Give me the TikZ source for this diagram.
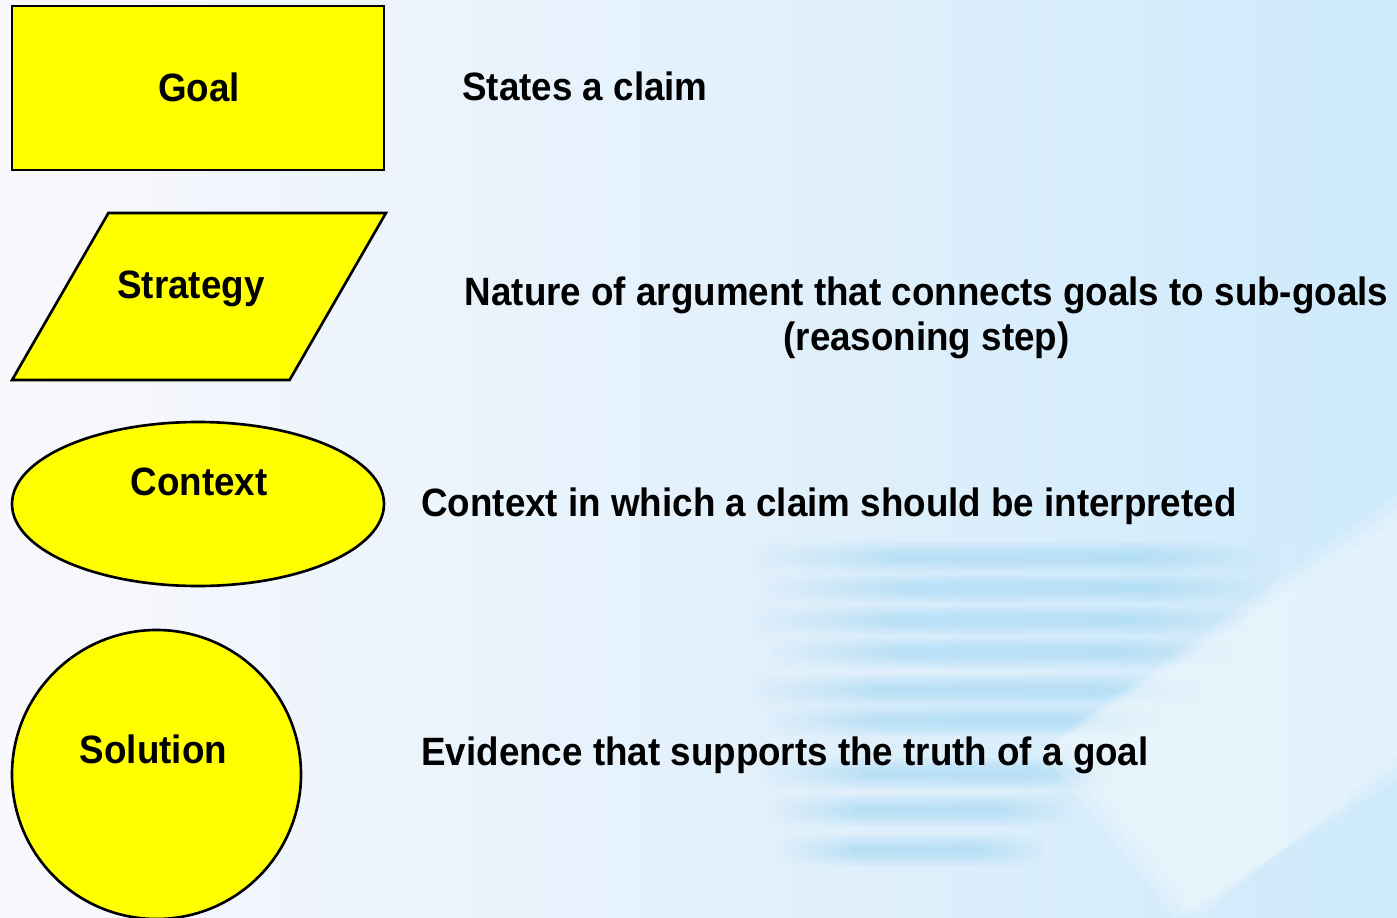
\documentclass[tikz,border=0pt]{standalone}
\usepackage{fontspec}
\newfontfamily\gsnfont[FakeStretch=0.93]{Liberation Sans}
\usepackage{xcolor}
\usetikzlibrary{shapes.geometric}

\definecolor{gsnyellow}{RGB}{255,255,0}
\definecolor{bgleft}{RGB}{249,248,252}
\definecolor{bgmid}{RGB}{237,244,252}
\definecolor{bgright}{RGB}{206,234,251}
\definecolor{streakblue}{RGB}{140,208,244}

% blue streak with soft ends (the path covers 25bp to 75bp)
\pgfdeclarehorizontalshading{streakshade}{100bp}{color(0bp)=(bgmid); color(25bp)=(bgmid);
  color(40bp)=(streakblue); color(62bp)=(streakblue); color(75bp)=(bgright!45!bgmid); color(100bp)=(bgright!45!bgmid)}

\begin{document}
\begin{tikzpicture}[
        % This defines the style of the yellow symbols
        symbol/.style={draw=black, line width=1.5pt, fill=gsnyellow, inner sep=2pt},
        % This defines the style of the names inside the symbols
        symlabel/.style={font=\gsnfont\bfseries\fontsize{22.5}{25.5}\selectfont, inner sep=0pt, anchor=base},
        % This defines the style of the explanations on the right
        desc/.style={font=\gsnfont\bfseries\fontsize{22.5}{25.5}\selectfont, inner sep=0pt, align=center},
        % This defines the style of the blurred streaks
        streak/.style={shading=streakshade, opacity=0.1}
    ]

    % --- THE BACKGROUND ---
    \useasboundingbox (0,0) rectangle (27.94,-18.36);
    \shade[left color=bgleft, middle color=bgmid, right color=bgright] (0,0) rectangle (27.94,-18.36);
    \foreach \y/\xa/\xb in {11.14/14.6/25.8, 11.76/14.8/25.8, 12.40/14.6/25.4, 13.04/15.0/25.0,
                            13.80/14.6/24.4, 14.40/15.0/23.6, 15.46/15.0/22.6, 16.20/15.2/21.6, 17.00/15.4/21.0}
      \foreach \h in {0.6, 0.48, 0.36, 0.24, 0.12}
        \shade[streak] (\xa,{-\y-\h/2}) rectangle (\xb,{-\y+\h/2});
    % white glare running up to the right
    \foreach \d in {0, 0.25, 0.5}
      \fill[white, opacity=0.18] ({20.8+\d},{-15.0+\d/2}) -- (27.94,{-9.9-\d}) -- (27.94,{-15.6+\d}) -- ({23.5+\d},-18.36) -- cycle;

    % --- THE SYMBOLS ---
    \node (goal) [symbol, rectangle, minimum width=7.44cm, minimum height=3.28cm] at (3.96,-1.76) {};
    \node (strategy) [symbol, trapezium, trapezium left angle=62, trapezium right angle=118, trapezium stretches=true,
                      minimum width=7.48cm, minimum height=3.34cm] at (3.98,-5.93) {};
    \node (context) [symbol, ellipse, minimum width=7.44cm, minimum height=3.28cm] at (3.96,-10.08) {};
    \node (solution) [symbol, circle, minimum size=5.78cm] at (3.13,-15.49) {};

    % --- THE NAMES ---
    \node (goalname) [symlabel] at (3.98,-2.04) {Goal};
    \node (strategyname) [symlabel] at (3.82,-5.96) {Strategy};
    \node (contextname) [symlabel] at (3.98,-9.90) {Context};
    \node (solutionname) [symlabel] at (3.07,-15.26) {Solution};

    % --- THE EXPLANATIONS ---
    \node (goaldesc) [desc, anchor=base west] at (9.24,-2.00) {States a claim};
    \node (strategydesc) [desc, anchor=base] at (18.53,-7.00) {Nature of argument that connects goals to sub-goals\\(reasoning step)};
    \node (contextdesc) [desc, anchor=base west] at (8.42,-10.32) {Context in which a claim should be interpreted};
    \node (solutiondesc) [desc, anchor=base west] at (8.42,-15.30) {Evidence that supports the truth of a goal};

    \end{tikzpicture}
\end{document}
